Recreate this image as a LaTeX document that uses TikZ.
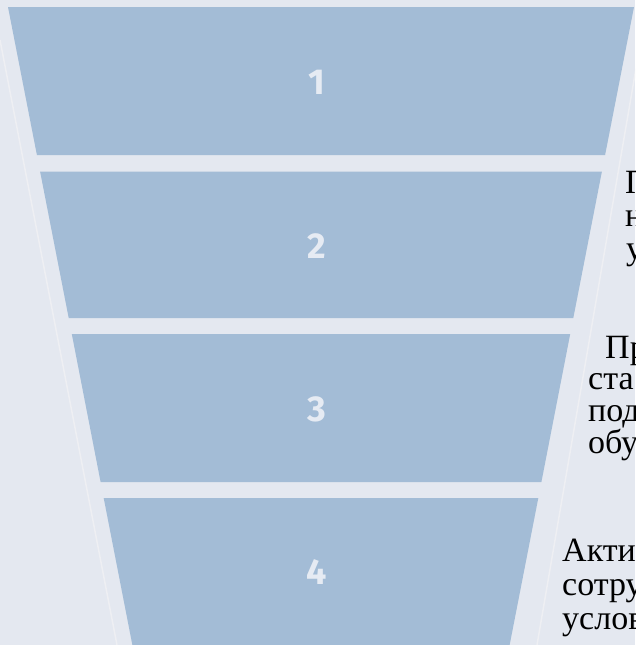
\documentclass[tikz,border=0pt]{standalone}
\usepackage{fontspec}
\setmainfont{Liberation Serif}
\newfontfamily\digitfont{Fira Sans}
\definecolor{bgcol}{HTML}{E4E8F0}
\definecolor{trapcol}{HTML}{A3BCD6}
\definecolor{digcol}{HTML}{E6EBF3}
\definecolor{faintcol}{HTML}{EEEFF3}
\tikzset{
  trap/.style={fill=trapcol, draw=none},
  digit/.style={text=digcol, font=\digitfont\bfseries\fontsize{36}{36}\selectfont, inner sep=0pt, anchor=center},
  rtext/.style={text=black, font=\fontsize{34}{36}\selectfont, inner sep=0pt, anchor=base west},
  faint/.style={draw=faintcol, line width=1.5pt}
}
\begin{document}
\begin{tikzpicture}[x=1pt,y=-1pt]
\useasboundingbox (0,0) rectangle (635,645);
\clip (0,0) rectangle (635,645);
\fill[bgcol] (0,0) rectangle (635,645);
% faint outer lines
\coordinate (fl1) at (0,40);
\coordinate (fl2) at (117,645);
\coordinate (fr1) at (640,45);
\coordinate (fr2) at (537,645);
\draw[faint] (fl1) -- (fl2);
\draw[faint] (fr1) -- (fr2);
% trapezoids
\fill[trap] (8,7) -- (634,7) -- (605.1,155) -- (36.9,155) -- cycle;
\fill[trap] (40.1,171.5) -- (601.9,171.5) -- (573.3,318) -- (68.7,318) -- cycle;
\fill[trap] (71.8,334) -- (570.2,334) -- (541.4,482) -- (100.6,482) -- cycle;
\fill[trap] (103.7,498) -- (538.3,498) -- (506.7,660) -- (135.3,660) -- cycle;
% digits
\node[digit] (d1) at (317,82) {1};
\node[digit] (d2) at (317,246) {2};
\node[digit] (d3) at (317,409) {3};
\node[digit] (d4) at (317,572) {4};
% right texts
\node[rtext] (t2a) at (625,193) {П};
\node[rtext] (t2b) at (625,226) {н};
\node[rtext] (t2c) at (626,259) {у};
\node[rtext] (t3a) at (605,358) {Пр};
\node[rtext] (t3b) at (588,389) {ста};
\node[rtext] (t3c) at (588,421) {под};
\node[rtext] (t3d) at (588,453) {обу};
\node[rtext] (t4a) at (562,561) {Акти};
\node[rtext] (t4b) at (562,595) {сотру};
\node[rtext] (t4c) at (562,629) {услов};
\end{tikzpicture}
\end{document}
